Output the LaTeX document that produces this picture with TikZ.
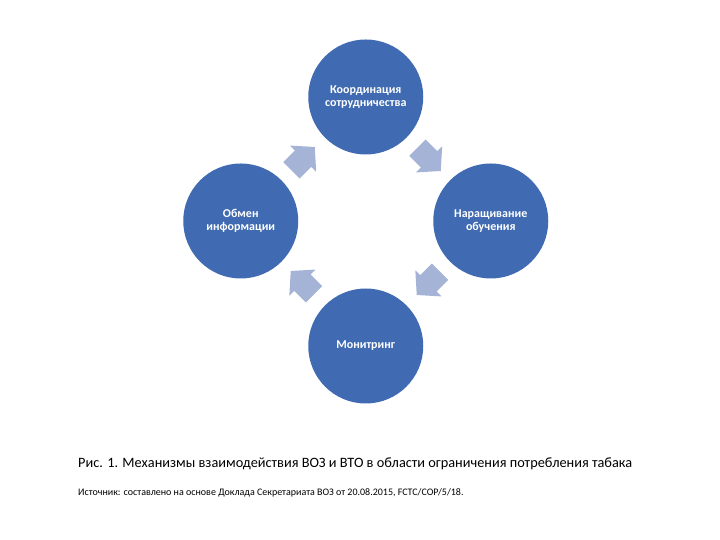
\documentclass[tikz,border=0pt]{standalone}
\usepackage{fontspec}
\setmainfont{Carlito}
\definecolor{circfill}{RGB}{64,106,177}
\definecolor{arrfill}{RGB}{165,180,214}
\begin{document}
\begin{tikzpicture}[x=1pt,y=1pt,
  stage/.style={circle, fill=circfill, minimum size=115pt, inner sep=0pt,
    text=white, align=center, font=\fontsize{12}{13.5}\selectfont\bfseries},
  cyclearrow/.style={fill=arrfill}]
\useasboundingbox (0,0) rectangle (720,540);
\node[stage] (koord) at (365.75,443) {Координация\\сотрудничества};
\node[stage] (narasch) at (490.75,319) {Наращивание\\обучения};
\node[stage] (monit) at (365.75,194) {Монитринг};
\node[stage] (obmen) at (240.75,319) {Обмен\\информации};
\coordinate (a1) at (302.75,381);
\coordinate (a2) at (428.75,381);
\coordinate (a3) at (428.75,257);
\coordinate (a4) at (302.75,257);
\foreach \c/\ang in {a1/45, a2/-45, a3/-135, a4/135}{
  \fill[cyclearrow, shift={(\c)}, rotate=\ang]
    (-16,-11.5) -- (0.5,-11.5) -- (0.5,-18.5) -- (17,0) -- (0.5,18.5)
    -- (0.5,11.5) -- (-16,11.5) -- cycle;
}
\node[anchor=west, inner sep=0pt, font=\fontsize{14.3}{16}\selectfont] (cap) at (78,76)
  {Рис. 1. Механизмы взаимодействия ВОЗ и ВТО в области ограничения потребления табака};
\node[anchor=west, inner sep=0pt, font=\fontsize{10}{12}\selectfont] (src) at (78,47)
  {Источник: составлено на основе Доклада Секретариата ВОЗ от 20.08.2015, FCTC/COP/5/18.};
\end{tikzpicture}
\end{document}
